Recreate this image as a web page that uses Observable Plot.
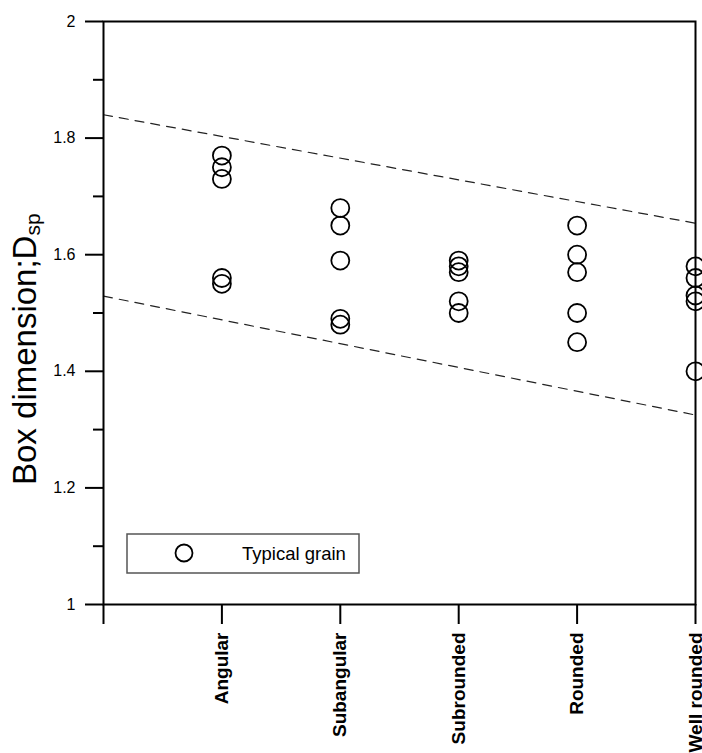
<!DOCTYPE html>
<html>
<head>
<meta charset="utf-8">
<script src="https://cdn.jsdelivr.net/npm/d3@7"></script>
<script src="https://cdn.jsdelivr.net/npm/@observablehq/plot@0.6"></script>
<style>
  html, body { margin: 0; padding: 0; background: #fff; }
  #chart { position: relative; width: 702px; height: 753px; overflow: hidden; }
  svg { font-family: "Liberation Sans", Arial, sans-serif; }
</style>
</head>
<body>
<div id="chart"></div>
<script>
// ---- data ----
const categories = ["Angular", "Subangular", "Subrounded", "Rounded", "Well rounded"];
const angular     = [1.77, 1.75, 1.73, 1.56, 1.55];
const subangular  = [1.68, 1.65, 1.59, 1.49, 1.48];
const subrounded  = [1.59, 1.58, 1.57, 1.52, 1.50];
const rounded     = [1.65, 1.60, 1.57, 1.50, 1.45];
const wellRounded = [1.58, 1.56, 1.53, 1.52, 1.40];
const boundX      = [0, 5];
const upperBound  = [1.84, 1.654];
const lowerBound  = [1.529, 1.325];
const yTicks      = [1, 1.2, 1.4, 1.6, 1.8, 2];
const yTickLabels = ["1", "1.2", "1.4", "1.6", "1.8", "2"];
const yMinor      = [1.1, 1.3, 1.5, 1.7, 1.9];
const xTicks      = [0, 1, 2, 3, 4, 5];
const legendLabel = "Typical grain";

const series = [angular, subangular, subrounded, rounded, wellRounded];
const points = series.flatMap((vals, i) => vals.map(v => ({pos: i + 1, cat: categories[i], value: v})));
const upper = boundX.map((x, i) => ({x, y: upperBound[i]}));
const lower = boundX.map((x, i) => ({x, y: lowerBound[i]}));

const chart = Plot.plot({
  width: 702,
  height: 753,
  marginLeft: 103,
  marginRight: 7,
  marginTop: 21,
  marginBottom: 149,
  style: {fontFamily: "'Liberation Sans', Arial, sans-serif", background: "#fff", overflow: "visible"},
  x: {type: "linear", domain: [0, 5]},
  y: {type: "linear", domain: [1, 2]},
  marks: [
    Plot.line(upper, {x: "x", y: "y", stroke: "#222", strokeWidth: 1.2, strokeDasharray: "9,7"}),
    Plot.line(lower, {x: "x", y: "y", stroke: "#222", strokeWidth: 1.2, strokeDasharray: "9,7"}),
    Plot.dot(points, {x: "pos", y: "value", r: 9, stroke: "black", strokeWidth: 1.8, fill: "none"}),
    Plot.axisY(yMinor, {tickSize: 10, strokeWidth: 2, stroke: "black", tickFormat: () => "", label: null}),
    Plot.axisY(yTicks, {tickSize: 18, tickPadding: 10, strokeWidth: 2, stroke: "black", fontSize: 16,
      tickFormat: d => yTickLabels[yTicks.indexOf(d)], label: null}),
    Plot.axisX(xTicks, {tickSize: 20, tickPadding: 8, strokeWidth: 2, stroke: "black", fontSize: 19,
      fontWeight: "bold", tickRotate: -90, tickFormat: d => categories[d - 1] ?? "", label: null}),
    Plot.frame({stroke: "black", strokeWidth: 2})
  ]
});

document.getElementById("chart").appendChild(chart);

// y-axis title with subscript
const svg = d3.select(chart);
const title = svg.append("text")
  .attr("transform", "translate(36,485) rotate(-90)")
  .attr("text-anchor", "start")
  .attr("font-size", 33)
  .attr("fill", "black")
  .attr("font-family", "'Liberation Sans', Arial, sans-serif");
title.append("tspan").text("Box dimension;D");
title.append("tspan").attr("font-size", 21).attr("dy", 4).text("sp");

// legend box inside the plot area
const lg = svg.append("g");
lg.append("rect").attr("x", 127).attr("y", 534).attr("width", 232).attr("height", 39)
  .attr("fill", "white").attr("stroke", "#555").attr("stroke-width", 1.5);
lg.append("circle").attr("cx", 184).attr("cy", 553).attr("r", 8.5)
  .attr("fill", "none").attr("stroke", "black").attr("stroke-width", 1.8);
lg.append("text").attr("x", 242).attr("y", 559.5).attr("font-size", 18.5)
  .attr("text-anchor", "start")
  .attr("fill", "black").text(legendLabel);
</script>
</body>
</html>
